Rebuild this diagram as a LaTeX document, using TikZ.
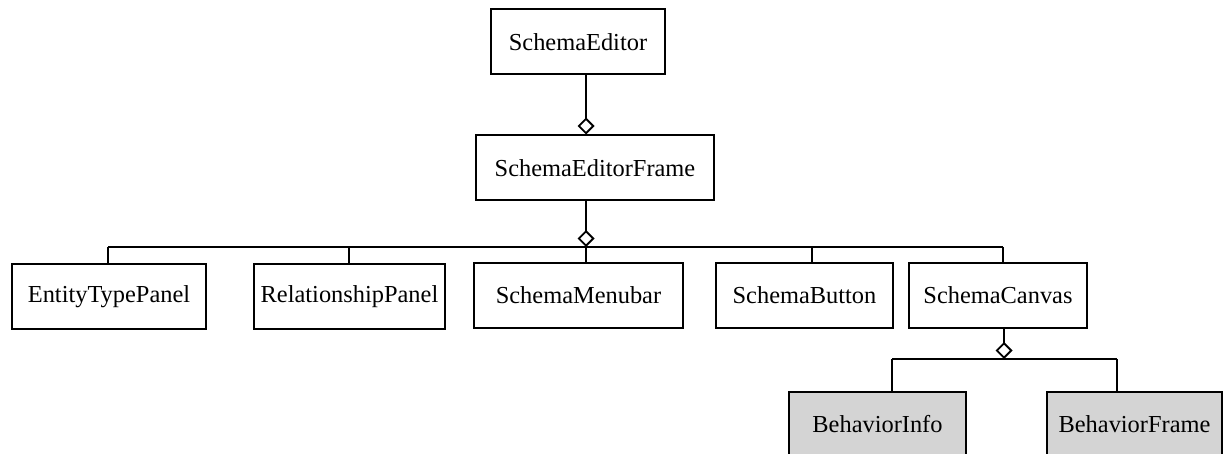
\documentclass[tikz,border=0pt]{standalone}
\usepackage{fontspec}
\setmainfont{Liberation Serif}
\usetikzlibrary{arrows.meta}
\begin{document}
\begin{tikzpicture}[x=0.5pt,y=-0.5pt,
  cls/.style={draw, line width=1pt, minimum height=32.5pt, inner sep=0pt,
              font=\fontsize{12.2}{14}\selectfont, fill=white},
  beh/.style={cls, fill=black!17},
  link/.style={line width=1pt},
  agg/.style={link, -{Diamond[open,length=8.5pt,width=8.5pt,line width=0.9pt]}}]
\useasboundingbox (0,0) rectangle (1228,454);
\clip (0,0) rectangle (1228,454);

\node[cls, minimum width=87pt]   (se)  at (578,42)    {SchemaEditor};
\node[cls, minimum width=119pt]  (sef) at (595,168)   {SchemaEditorFrame};
\node[cls, minimum width=97pt]   (etp) at (109,296.5) {EntityTypePanel};
\node[cls, minimum width=95.5pt] (rp)  at (349.5,296.5) {RelationshipPanel};
\node[cls, minimum width=104.5pt](sm)  at (578.5,295.5) {SchemaMenubar};
\node[cls, minimum width=88.5pt] (sb)  at (804.5,295.5) {SchemaButton};
\node[cls, minimum width=89pt]   (sc)  at (998,295.5) {SchemaCanvas};
\node[beh, minimum width=88.5pt] (bi)  at (877.5,424.5) {BehaviorInfo};
\node[beh, minimum width=87.5pt] (bf)  at (1134.5,424.5) {BehaviorFrame};

% SchemaEditor -- SchemaEditorFrame
\coordinate (top) at (586,100);
\draw[agg] (se.south -| top) -- (sef.north -| top);

% first bus
\coordinate (hub)  at (586,247);
\coordinate (busL) at (108,247);
\coordinate (busB) at (349,247);
\coordinate (busD) at (812,247);
\coordinate (busR) at (1003,247);
\draw[agg] (sef.south -| hub) -- (hub);
\draw[link] (busL) -- (busR);
\draw[link] (busL) -- (etp.north -| busL);
\draw[link] (busB) -- (rp.north -| busB);
\draw[link] (hub)  -- (sm.north -| hub);
\draw[link] (busD) -- (sb.north -| busD);
\draw[link] (busR) -- (sc.north -| busR);

% second bus
\coordinate (hub2) at (1004,359);
\coordinate (c1) at (892,359);
\coordinate (c2) at (1117,359);
\draw[agg] (sc.south -| hub2) -- (hub2);
\draw[link] (c1) -- (c2);
\draw[link] (c1) -- (bi.north -| c1);
\draw[link] (c2) -- (bf.north -| c2);
\end{tikzpicture}
\end{document}
